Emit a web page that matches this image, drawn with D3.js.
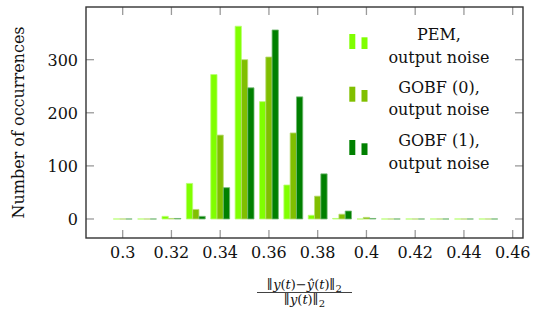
<!DOCTYPE html>
<html>
<head>
<meta charset="utf-8">
<script src="https://cdn.jsdelivr.net/npm/d3@7"></script>
<style>
  body { margin: 0; background: #fff; }
  text { font-family: "DejaVu Serif", "Liberation Serif", serif; fill: #111; }
</style>
</head>
<body>
<div id="chart"></div>
<script>
// bin centres of the histogram
var binCenters = [0.30, 0.31, 0.32, 0.33, 0.34, 0.35, 0.36, 0.37, 0.38, 0.39, 0.40, 0.41, 0.42, 0.43, 0.44, 0.45];

// counts per bin
var pemCounts   = [0, 0, 5, 67, 272, 363, 221, 64, 7, 1, 0, 0, 0, 0, 0, 0];
var gobf0Counts = [0, 0, 1, 18, 158, 300, 305, 162, 43, 9, 3, 0, 0, 0, 0, 0];
var gobf1Counts = [0, 0, 1, 5, 59, 247, 356, 230, 85, 15, 1, 0, 0, 0, 0, 0];

var seriesNames = [["PEM,", "output noise"], ["GOBF (0),", "output noise"], ["GOBF (1),", "output noise"]];
var seriesColors = ["#80ff00", "#80bf00", "#008000"];

var xTicks = [0.30, 0.32, 0.34, 0.36, 0.38, 0.40, 0.42, 0.44, 0.46];
var yTicks = [0, 100, 200, 300];

var width = 536, height = 315;
var plot = {left: 86, right: 523, top: 7, bottom: 238};

var svg = d3.select("#chart").append("svg")
    .attr("width", width)
    .attr("height", height);

var x = d3.scaleLinear()
    .domain([0.28495, 0.46423])
    .range([plot.left, plot.right]);

var y = d3.scaleLinear()
    .domain([-35.8, 399.2])
    .range([plot.bottom, plot.top]);

var barW = 6.3;
var series = [pemCounts, gobf0Counts, gobf1Counts];

// bars (paths so that empty bins still leave a thin line)
series.forEach(function(counts, s) {
    var col = seriesColors[s];
    var edge = d3.interpolateRgb(col, "#ffffff")(0.45);
    svg.append("g").attr("class", "series-" + s)
        .selectAll("path")
        .data(binCenters.map(function(c, i) { return {c: c, v: counts[i]}; }))
        .enter().append("path")
        .attr("d", function(d) {
            var x0 = x(d.c) + (s - 1.5) * barW, x1 = x0 + barW;
            return "M" + x0 + "," + y(0) + "V" + y(d.v) + "H" + x1 + "V" + y(0) + "Z";
        })
        .style("fill", col)
        .style("stroke", edge)
        .style("stroke-width", 0.8);
});

// ticks (inside, on all four sides)
var tickLen = 8;
var ticks = svg.append("g").attr("class", "ticks")
    .style("stroke", "#9a9a9a").style("stroke-width", 1.3);

xTicks.forEach(function(t) {
    ticks.append("line").attr("x1", x(t)).attr("x2", x(t))
        .attr("y1", plot.bottom).attr("y2", plot.bottom - tickLen);
    ticks.append("line").attr("x1", x(t)).attr("x2", x(t))
        .attr("y1", plot.top).attr("y2", plot.top + tickLen);
});
yTicks.forEach(function(t) {
    ticks.append("line").attr("y1", y(t)).attr("y2", y(t))
        .attr("x1", plot.left).attr("x2", plot.left + tickLen);
    ticks.append("line").attr("y1", y(t)).attr("y2", y(t))
        .attr("x1", plot.right).attr("x2", plot.right - tickLen);
});

// frame
svg.append("rect")
    .attr("x", plot.left).attr("y", plot.top)
    .attr("width", plot.right - plot.left).attr("height", plot.bottom - plot.top)
    .style("fill", "none").style("stroke", "#333").style("stroke-width", 1.4);

// tick labels
svg.append("g").selectAll("text")
    .data(xTicks).enter().append("text")
    .attr("x", function(d) { return x(d); })
    .attr("y", 258)
    .attr("text-anchor", "middle")
    .style("font-size", "16px")
    .text(function(d) { return d3.format("")(+d.toFixed(2)); });

svg.append("g").selectAll("text")
    .data(yTicks).enter().append("text")
    .attr("x", plot.left - 8)
    .attr("y", function(d) { return y(d) + 6; })
    .attr("text-anchor", "end")
    .style("font-size", "16px")
    .text(function(d) { return d; });

// y axis label
svg.append("text")
    .attr("transform", "translate(24," + 122.5 + ") rotate(-90)")
    .attr("text-anchor", "middle")
    .style("font-size", "16px")
    .text("Number of occurrences");

// x axis label: ||y(t) - yhat(t)||_2 / ||y(t)||_2
function normText(g, yPos, parts) {
    var t = g.append("text").attr("y", yPos).attr("text-anchor", "middle")
        .style("font-size", "13px");
    parts.forEach(function(p) {
        var ts = t.append("tspan").text(p[0]);
        if (p[1] === "i") ts.style("font-style", "italic");
        if (p[1] === "sub") ts.attr("dy", 3).style("font-size", "10px");
    });
    return t;
}
var frac = svg.append("g").attr("transform", "translate(304.5,0)");
normText(frac, 289, [["\u2225", ""], ["y", "i"], ["(", ""], ["t", "i"], [")\u2212", ""], ["\u0177", "i"],
    ["(", ""], ["t", "i"], [")\u2225", ""], ["2", "sub"]]);
frac.append("line")
    .attr("x1", -47.5).attr("x2", 47.5).attr("y1", 292.5).attr("y2", 292.5)
    .style("stroke", "#111").style("stroke-width", 0.8);
normText(frac, 304, [["\u2225", ""], ["y", "i"], ["(", ""], ["t", "i"], [")\u2225", ""], ["2", "sub"]]);

// legend
var legendRows = [49, 101.7, 155];
var legend = svg.append("g").attr("class", "legend");
seriesNames.forEach(function(lines, s) {
    var yb = legendRows[s];
    legend.append("rect").attr("x", 349.3).attr("y", yb - 15).attr("width", 6).attr("height", 15)
        .style("fill", seriesColors[s]);
    legend.append("rect").attr("x", 361.5).attr("y", yb - 11.7).attr("width", 6).attr("height", 11.7)
        .style("fill", seriesColors[s]);
    legend.append("text").attr("x", 439).attr("y", yb - 9)
        .attr("text-anchor", "middle").style("font-size", "16px").text(lines[0]);
    legend.append("text").attr("x", 439).attr("y", yb + 13.5)
        .attr("text-anchor", "middle").style("font-size", "16px").text(lines[1]);
});
</script>
</body>
</html>
